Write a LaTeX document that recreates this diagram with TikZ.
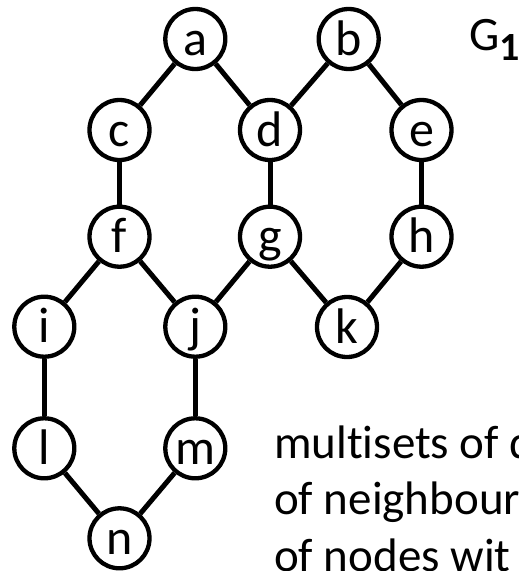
\documentclass[tikz,border=0pt]{standalone}
\usepackage{fontspec}
\setmainfont{Carlito}[RawFeature=-liga]
\begin{document}
\begin{tikzpicture}[x=1pt,y=-1pt,
  vertex/.style={circle, draw, line width=4.3pt, minimum size=60pt, inner sep=0pt,
    font=\fontsize{50}{58}\selectfont, text height=32pt, text depth=0pt},
  edge/.style={line width=5pt},
  bodytext/.style={anchor=base west, inner sep=0pt, font=\fontsize{47}{56}\selectfont},
  graphname/.style={anchor=base west, inner sep=0pt}]
  \path[use as bounding box, clip] (0,0) rectangle (519,571);

  % vertices
  \node[vertex] (a) at (195.3, 39) {a};
  \node[vertex] (b) at (348.7, 39) {b};
  \node[vertex] (c) at (119.5, 130) {c};
  \node[vertex] (d) at (270, 130) {d};
  \node[vertex] (e) at (421.5, 130) {e};
  \node[vertex] (f) at (119.5, 236.7) {f};
  \node[vertex] (g) at (270, 236.7) {g};
  \node[vertex] (h) at (421.5, 236.7) {h};
  \node[vertex] (i) at (44.3, 326.7) {i};
  \node[vertex] (j) at (195.3, 326.7) {j};
  \node[vertex] (k) at (347, 327) {k};
  \node[vertex] (l) at (44.3, 448.3) {l};
  \node[vertex] (m) at (195.3, 448.3) {m};
  \node[vertex] (n) at (119.5, 538.3) {n};

  % edges
  \draw[edge] (a) -- (c);
  \draw[edge] (a) -- (d);
  \draw[edge] (b) -- (d);
  \draw[edge] (b) -- (e);
  \draw[edge] (c) -- (f);
  \draw[edge] (d) -- (g);
  \draw[edge] (e) -- (h);
  \draw[edge] (f) -- (i);
  \draw[edge] (f) -- (j);
  \draw[edge] (g) -- (j);
  \draw[edge] (g) -- (k);
  \draw[edge] (h) -- (k);
  \draw[edge] (i) -- (l);
  \draw[edge] (j) -- (m);
  \draw[edge] (l) -- (n);
  \draw[edge] (m) -- (n);

  % graph name with bold subscript
  \node[graphname] (gname) at (469, 50)
    {\fontsize{48}{56}\selectfont G\raisebox{-10pt}{\fontsize{40}{48}\selectfont\bfseries 1}};

  % caption text
  \node[bodytext] (line1) at (274, 458) {multisets of d};
  \node[bodytext] (line2) at (274, 514.5) {of neighbour};
  \node[bodytext] (line3) at (274, 571) {of nodes wit};
\end{tikzpicture}
\end{document}
